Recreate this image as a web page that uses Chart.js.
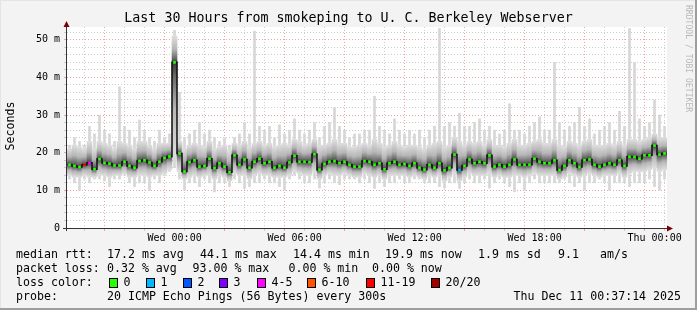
<!DOCTYPE html>
<html>
<head>
<meta charset="utf-8">
<script src="https://cdn.jsdelivr.net/npm/chart.js@4.4.1/dist/chart.umd.min.js"></script>
<style>
  html, body { margin: 0; padding: 0; background: #f3f3f3; }
  #wrap { width: 697px; height: 310px; position: relative; }
</style>
</head>
<body>
<div id="wrap"><canvas id="chart"></canvas></div>
<script>
// 15 minute steps, first step starts Tue 18:37:14
var startClock = 18 + 37 / 60 + 14 / 3600;
var stepHours = 0.25;

// median rtt (ms)
var med = [
  16.8, 16.5, 16.2, 16.8, 17.3, 15.6, 18.3, 17.3, 17.1, 16.6,
  16.6, 17.6, 16.5, 16.0, 17.8, 18.0, 17.4, 16.5, 17.6, 18.6,
  19.0, 44.0, 19.8, 15.0, 17.5, 18.0, 16.3, 16.5, 18.4, 15.9,
  17.2, 16.3, 14.8, 19.3, 16.8, 18.2, 16.0, 17.6, 18.4, 17.2,
  17.6, 16.0, 16.5, 16.0, 17.4, 19.2, 17.6, 17.6, 17.5, 19.6,
  15.5, 17.0, 17.6, 17.8, 17.2, 17.6, 16.8, 16.3, 16.3, 17.8,
  17.6, 16.8, 17.2, 15.6, 17.2, 17.6, 16.8, 17.0, 16.5, 17.2,
  16.0, 15.5, 16.8, 16.0, 17.2, 15.3, 16.0, 19.5, 15.4, 16.5,
  18.2, 17.2, 17.6, 17.2, 19.3, 16.3, 16.8, 16.3, 16.8, 18.2,
  16.8, 16.8, 16.8, 18.4, 17.6, 17.2, 17.2, 18.0, 15.4, 16.5,
  18.0, 17.2, 16.2, 18.0, 18.2, 16.8, 16.3, 16.8, 17.2, 16.8,
  18.0, 16.5, 18.9, 18.9, 18.4, 19.3, 19.3, 21.9, 19.5, 19.8
];
// lowest / highest ping of each step (ms)
var lo = [
  13, 12, 10, 13, 12, 13, 13, 12.5, 11, 13,
  13, 14, 12, 11, 12, 12, 10, 13, 12, 14,
  15, 16, 13, 10, 12, 12, 11, 13, 12, 9.6,
  12, 12, 11, 13, 12, 10.5, 11, 12, 12, 13,
  12, 12, 11, 10, 13, 14, 13, 12, 12, 13,
  10.6, 12, 13, 12, 11.5, 13, 13, 13, 12, 13,
  12, 10.5, 12, 11, 12, 12, 13, 12, 12, 13,
  13, 12, 12, 12, 11, 10.6, 12, 12, 10.5, 12,
  13, 12, 12, 13, 10.6, 12, 13, 12, 11, 9.6,
  12, 10, 12, 13, 12, 12, 12, 12, 12, 13,
  12, 11, 12, 10, 12, 12, 13, 12, 10, 12,
  12, 12, 11, 12, 12, 12, 13, 11, 10, 13
];
var hi = [
  22, 24, 23, 22, 27, 25, 30, 26, 25, 23,
  37.5, 27, 26, 24, 28.7, 26, 24, 23, 26, 24,
  25, 52.5, 36, 24, 25, 26, 28, 25, 26, 24,
  23, 24, 22, 24, 25, 28, 25, 52.3, 27, 26,
  27, 24, 27.4, 25, 26, 29, 26, 25, 26, 28,
  24, 27, 28, 32, 27, 26, 24, 25, 25, 26,
  26, 35, 27, 26, 25, 29, 26, 25, 26, 25,
  26, 24, 26, 27, 53, 27, 28, 27, 30.5, 27,
  27, 28, 29, 26, 27, 26, 25, 26, 33, 26,
  26, 25, 27, 28, 29.5, 26, 26, 44, 28, 26,
  27, 28, 32, 27, 29, 25, 26, 27, 28, 26,
  31, 27, 53, 44, 29, 27, 28, 34, 30, 27
];
// dense part of the smoke (ms)
var q1 = [
  14, 13.5, 13.5, 14, 13.5, 13.5, 14, 14, 13.5, 14,
  14, 14.5, 13.5, 13.5, 14, 14, 13.5, 14, 14, 14.5,
  15.5, 19, 15, 13, 13.5, 14, 13.5, 14, 14, 13,
  14, 13.5, 12.5, 14.5, 14, 14, 13, 14, 14.5, 14,
  14, 13.5, 13.5, 13.5, 14, 15, 14.5, 14, 14, 15,
  13, 14, 14.5, 14, 14, 14.5, 14, 13.5, 13.5, 14.5,
  14, 13.5, 14, 13, 14, 14, 14, 14, 13.5, 14,
  13.5, 13, 14, 13.5, 14, 12.5, 13.5, 14.5, 12.5, 13.5,
  14.5, 14, 14, 14, 14.5, 13.5, 14, 13.5, 13.5, 14,
  14, 13.5, 14, 14.5, 14, 14, 14, 14, 13, 13.5,
  14.5, 14, 13.5, 14, 14.5, 14, 13.5, 14, 14, 14,
  14.5, 13.5, 14.5, 15, 15, 15, 15.5, 16, 15, 15.5
];
var q3 = [
  21, 22, 21.5, 21, 23, 21, 23, 22.5, 22, 21,
  23, 22.5, 22, 21, 23, 23, 22, 21, 22.5, 22.5,
  22.5, 51, 23, 21, 22, 22.5, 22, 21.5, 23, 21,
  21.5, 22, 20.5, 22.5, 22, 23, 21.5, 22.5, 23, 22,
  22.5, 21.5, 22, 22.5, 22, 23.5, 23, 22, 22.5, 23.5,
  22, 22, 22.5, 23.5, 22.5, 22.5, 21.5, 21.5, 22, 22.5,
  22, 23.5, 22.5, 21.5, 22, 23, 22, 21.5, 22, 22,
  21.5, 21, 22, 22.5, 23, 21.5, 22, 24, 23, 22,
  23, 22.5, 23, 22, 23.5, 22, 22, 21.5, 22.5, 23.5,
  22, 22, 22.5, 23, 23.5, 22.5, 22.5, 23.5, 22, 21.5,
  23, 22.5, 22, 23, 23.5, 22, 22, 22, 22.5, 22,
  23, 22, 23.5, 23.5, 23, 23.5, 24, 25, 24, 24
];
// steps that lost pings
var lossIdx = [3, 4, 78];
var lossPings = [12, 5, 1];

var lossLabels = ['0', '1', '2', '3', '4-5', '6-10', '11-19', '20/20'];
var lossColors = ['#26ff00', '#00b8ff', '#0059ff', '#7e00ff', '#ff00ff', '#ff5500', '#ff0000', '#a10000'];
var lossUpper = [0, 1, 2, 3, 5, 10, 19, 20];

var tickHours = [24, 30, 36, 42, 48];
var tickLabels = ['Wed 00:00', 'Wed 06:00', 'Wed 12:00', 'Wed 18:00', 'Thu 00:00'];
var yLabels = ['0', '10 m', '20 m', '30 m', '40 m', '50 m'];

var legendRows = [
  [[16, 'median rtt:'], [107, '17.2 ms avg'], [200, '44.1 ms max'], [293, '14.4 ms min'], [385, '19.9 ms now'], [478, '1.9 ms sd'], [558, '9.1'], [600, 'am/s']],
  [[16, 'packet loss:'], [107, '0.32 % avg'], [192.5, '93.00 % max'], [288.5, '0.00 % min'], [372, '0.00 % now']],
  [[16, 'loss color:']],
  [[16, 'probe:'], [107, '20 ICMP Echo Pings (56 Bytes) every 300s']]
];
var dateText = 'Thu Dec 11 00:37:14 2025';

var MONO = "'DejaVu Sans Mono', monospace";
var t = med.map(function (v, i) { return (i + 0.5) * stepHours; });

function lossColor(i) {
  var k = lossIdx.indexOf(i);
  if (k < 0) return lossColors[0];
  for (var j = 0; j < lossUpper.length; j++) {
    if (lossPings[k] <= lossUpper[j]) return lossColors[j];
  }
  return lossColors[lossColors.length - 1];
}

function smokeFill(ctx) {
  if (ctx.type !== 'data') return '#bbbbbb';
  var i = ctx.dataIndex;
  var y = ctx.chart.scales.y;
  if (!y) return '#bbbbbb';
  var top = y.getPixelForValue(q3[i]);
  var bot = y.getPixelForValue(q1[i]);
  var mid = y.getPixelForValue(med[i]);
  if (!isFinite(top) || !isFinite(bot) || !isFinite(mid) || bot - top < 1) return '#bbbbbb';
  var f = (mid - top) / (bot - top);
  f = Math.min(0.97, Math.max(0.03, f));
  var g = ctx.chart.ctx.createLinearGradient(0, top, 0, bot);
  g.addColorStop(0, '#dedede');
  g.addColorStop(f * 0.5, '#b6b6b6');
  g.addColorStop(f * 0.85, '#6a6a6a');
  g.addColorStop(f, '#3a3a3a');
  g.addColorStop(f + (1 - f) * 0.15, '#6a6a6a');
  g.addColorStop(f + (1 - f) * 0.5, '#b6b6b6');
  g.addColorStop(1, '#dedede');
  return g;
}

var hourTicks = [];
for (var h = 19; h <= 48; h++) hourTicks.push(h);
var yGrid = [];
for (var v = 0; v <= 52; v += 2) yGrid.push(v);

var minorGrid = '#cccccc';
var majorGrid = '#f0a0a0';

var rrdFrame = {
  id: 'rrdFrame',
  beforeDraw: function (chart) {
    var c = chart.ctx, a = chart.chartArea;
    c.save();
    c.fillStyle = '#f3f3f3';
    c.fillRect(0, 0, chart.width, chart.height);
    c.fillStyle = '#ffffff';
    c.fillRect(a.left, a.top, a.right - a.left, a.bottom - a.top);
    // 3d border
    c.fillStyle = '#e4e4e4';
    c.fillRect(0, 0, chart.width, 1);
    c.fillRect(0, 0, 1, chart.height);
    c.fillStyle = '#9e9e9e';
    c.fillRect(chart.width - 2, 0, 2, chart.height);
    c.fillRect(0, chart.height - 2, chart.width, 2);
    c.restore();
  },
  afterDatasetsDraw: function (chart) {
    var c = chart.ctx, a = chart.chartArea;
    c.save();
    c.strokeStyle = '#333333';
    c.lineWidth = 1;
    c.beginPath();
    c.moveTo(a.left - 0.5, a.bottom + 3);
    c.lineTo(a.left - 0.5, a.top - 1);
    c.moveTo(a.left - 4, a.bottom + 0.5);
    c.lineTo(a.right + 1, a.bottom + 0.5);
    c.stroke();
    c.fillStyle = '#7f0000';
    c.beginPath();
    c.moveTo(a.left - 0.5, a.top - 6);
    c.lineTo(a.left - 3.5, a.top);
    c.lineTo(a.left + 2.5, a.top);
    c.closePath();
    c.fill();
    c.beginPath();
    c.moveTo(a.right + 6, a.bottom + 0.5);
    c.lineTo(a.right, a.bottom - 2.5);
    c.lineTo(a.right, a.bottom + 3.5);
    c.closePath();
    c.fill();
    c.restore();
  },
  afterDraw: function (chart) {
    var c = chart.ctx;
    c.save();
    c.fillStyle = '#000000';
    // y axis title
    c.font = '11.6px ' + MONO;
    c.textAlign = 'center';
    c.textBaseline = 'middle';
    c.save();
    c.translate(11, 126);
    c.rotate(-Math.PI / 2);
    c.fillText('Seconds', 0, 0);
    c.restore();
    // watermark
    c.save();
    c.fillStyle = '#b8b8b8';
    c.font = '8.1px ' + MONO;
    c.textAlign = 'left';
    c.translate(688, 5);
    c.rotate(Math.PI / 2);
    c.fillText('RRDTOOL / TOBI OETIKER', 0, 0);
    c.restore();
    // legend
    c.font = '11.6px ' + MONO;
    c.textAlign = 'left';
    var rowY = [254.5, 268.5, 282.5, 296.5];
    legendRows.forEach(function (row, r) {
      row.forEach(function (s) { c.fillText(s[1], s[0], rowY[r]); });
    });
    var boxX = [109, 146, 183, 219, 257, 307, 366, 431];
    lossLabels.forEach(function (lab, k) {
      c.fillStyle = lossColors[k];
      c.fillRect(boxX[k], 278, 8, 9);
      c.strokeStyle = '#000000';
      c.lineWidth = 1;
      c.strokeRect(boxX[k] + 0.5, 278.5, 8, 9);
      c.fillStyle = '#000000';
      c.fillText(lab, boxX[k] + 14.5, rowY[2]);
    });
    c.textAlign = 'right';
    c.fillText(dateText, 681, rowY[3]);
    c.restore();
  }
};

new Chart(document.getElementById('chart'), {
  type: 'bar',
  data: {
    datasets: [
      {
        type: 'line',
        label: 'median rtt',
        data: med.map(function (v, i) { return { x: t[i], y: v }; }),
        stepped: 'middle',
        borderColor: '#111111',
        borderWidth: 1.5,
        pointStyle: 'rect',
        pointRadius: 1.9,
        pointBorderWidth: 0,
        pointBackgroundColor: function (ctx) { return lossColor(ctx.dataIndex); },
        order: 0
      },
      {
        label: 'smoke',
        data: med.map(function (v, i) { return { x: t[i], y: [q1[i], q3[i]] }; }),
        backgroundColor: smokeFill,
        grouped: false,
        barPercentage: 1,
        categoryPercentage: 1,
        borderWidth: 0,
        order: 1
      },
      {
        label: 'range',
        data: med.map(function (v, i) { return { x: t[i], y: [lo[i], hi[i]] }; }),
        backgroundColor: '#d6d6d6',
        grouped: false,
        barThickness: 2,
        borderWidth: 0,
        order: 2
      }
    ]
  },
  options: {
    responsive: true,
    maintainAspectRatio: false,
    devicePixelRatio: 1,
    animation: false,
    events: [],
    layout: { padding: { left: 0, right: 0, top: 0, bottom: 62 } },
    plugins: {
      legend: { display: false },
      tooltip: { enabled: false },
      title: {
        display: true,
        text: 'Last 30 Hours from smokeping to U. C. Berkeley Webserver',
        color: '#000000',
        font: { family: MONO, size: 13.3, weight: 'normal', lineHeight: 1.2 },
        padding: { top: 11, bottom: 0 }
      }
    },
    scales: {
      x: {
        type: 'linear',
        min: 0,
        max: 30,
        offset: false,
        afterBuildTicks: function (s) {
          s.ticks = hourTicks.map(function (h) { return { value: h - startClock }; });
        },
        afterFit: function (s) { s.height = 20; },
        ticks: {
          autoSkip: false,
          maxRotation: 0,
          minRotation: 0,
          padding: 1,
          color: '#000000',
          font: { family: MONO, size: 10 },
          callback: function (val) {
            var k = tickHours.indexOf(Math.round(val + startClock));
            return k < 0 ? '' : tickLabels[k];
          }
        },
        grid: {
          color: function (ctx) {
            if (!ctx.tick) return minorGrid;
            var hh = Math.round(ctx.tick.value + startClock);
            return hh % 3 === 0 ? majorGrid : minorGrid;
          },
          tickColor: function (ctx) {
            if (!ctx.tick) return minorGrid;
            var hh = Math.round(ctx.tick.value + startClock);
            return hh % 3 === 0 ? majorGrid : minorGrid;
          },
          tickLength: 3,
          lineWidth: 1
        },
        border: { display: false, dash: [1, 2] }
      },
      y: {
        min: 0,
        max: 53.4,
        afterBuildTicks: function (s) {
          s.ticks = yGrid.map(function (g) { return { value: g }; });
        },
        afterFit: function (s) { s.width = 67; },
        ticks: {
          autoSkip: false,
          padding: 4,
          color: '#000000',
          font: { family: MONO, size: 10 },
          callback: function (val) { return val % 10 === 0 ? yLabels[val / 10] : ''; }
        },
        grid: {
          color: function (ctx) { return ctx.tick && ctx.tick.value % 10 === 0 ? majorGrid : minorGrid; },
          tickColor: function (ctx) { return ctx.tick && ctx.tick.value % 10 === 0 ? majorGrid : minorGrid; },
          tickLength: 3,
          lineWidth: 1
        },
        border: { display: false, dash: [1, 2] }
      },
      // empty right margin so the title centres on the whole image
      yRight: {
        position: 'right',
        display: true,
        min: 0,
        max: 1,
        afterFit: function (s) { s.width = 30; },
        ticks: { display: false },
        grid: { display: false, drawTicks: false },
        border: { display: false }
      }
    }
  },
  plugins: [rrdFrame]
});
</script>
</body>
</html>
